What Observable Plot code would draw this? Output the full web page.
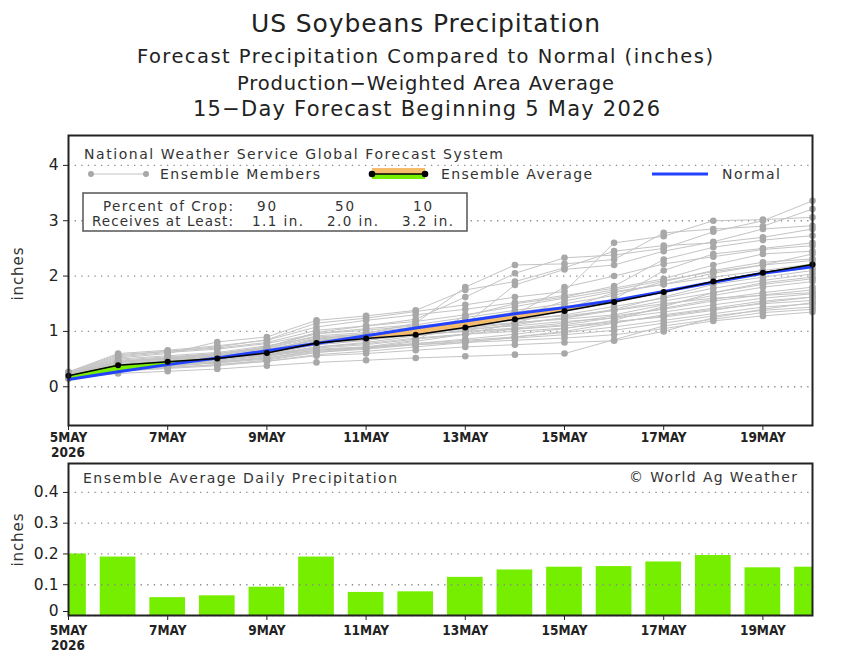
<!DOCTYPE html>
<html>
<head>
<meta charset="utf-8">
<script src="https://cdn.jsdelivr.net/npm/d3@7"></script>
<script src="https://cdn.jsdelivr.net/npm/@observablehq/plot@0.6"></script>
<style>
  body { margin: 0; background: #fff; }
  #chart { position: relative; width: 848px; height: 656px; overflow: hidden; font-family: "DejaVu Sans", sans-serif; }
  #chart > svg { position: absolute; left: 0; }
</style>
</head>
<body>
<div id="chart"></div>
<script>
// ---- data -------------------------------------------------------------
const days = ["5MAY","6MAY","7MAY","8MAY","9MAY","10MAY","11MAY","12MAY",
              "13MAY","14MAY","15MAY","16MAY","17MAY","18MAY","19MAY","20MAY"];
const tickDays = [0, 2, 4, 6, 8, 10, 12, 14];
const tickLabels = ["5MAY","7MAY","9MAY","11MAY","13MAY","15MAY","17MAY","19MAY"];
const yearLabel = "2026";
const yTicksTop = [0, 1, 2, 3, 4];
const yTickLabelsTop = ["0", "1", "2", "3", "4"];
const yTicksBottom = [0, 0.1, 0.2, 0.3, 0.4];
const yTickLabelsBottom = ["0", "0.1", "0.2", "0.3", "0.4"];

// cumulative precipitation (inches)
const ensembleAverage = [0.20,0.39,0.45,0.51,0.61,0.79,0.87,0.94,1.07,1.22,1.37,1.53,1.71,1.90,2.06,2.21];
const normal          = [0.13,0.27,0.40,0.52,0.65,0.78,0.92,1.06,1.19,1.32,1.43,1.56,1.72,1.89,2.05,2.17];

// daily ensemble-average precipitation (inches)
const dailyAverage = [0.20,0.19,0.058,0.064,0.092,0.19,0.075,0.077,0.124,0.148,0.157,0.159,0.174,0.195,0.155,0.157];

// cumulative precipitation of each ensemble member (inches)
const members = [
  [0.22,0.45,0.52,0.60,0.72,0.98,1.10,1.22,1.62,2.05,2.33,2.38,2.50,2.80,3.00,3.36],
  [0.20,0.40,0.47,0.55,0.66,0.86,0.96,1.15,1.80,2.20,2.22,2.30,2.78,2.85,2.90,3.21],
  [0.25,0.56,0.64,0.72,0.85,1.15,1.24,1.36,1.48,1.62,1.72,2.60,2.72,3.00,3.02,3.06],
  [0.18,0.35,0.41,0.48,0.58,0.76,0.84,0.94,1.12,1.84,2.12,2.20,2.45,2.62,2.85,2.91],
  [0.23,0.52,0.60,0.81,0.90,1.20,1.28,1.38,1.75,1.90,2.15,2.45,2.55,2.60,2.70,2.85],
  [0.17,0.30,0.36,0.44,0.52,0.66,0.72,0.84,1.28,1.50,1.62,1.82,2.30,2.52,2.65,2.73],
  [0.21,0.44,0.50,0.56,0.70,0.92,0.98,1.08,1.20,1.35,1.45,1.58,2.10,2.40,2.50,2.60],
  [0.19,0.38,0.45,0.52,0.64,0.82,0.92,1.04,1.18,1.30,1.80,2.00,2.22,2.35,2.48,2.55],
  [0.27,0.60,0.66,0.74,0.84,1.08,1.20,1.30,1.40,1.52,1.65,1.78,1.95,2.20,2.40,2.45],
  [0.15,0.28,0.34,0.40,0.48,0.62,0.70,0.82,0.95,1.15,1.40,1.70,1.85,2.05,2.20,2.40],
  [0.22,0.46,0.52,0.58,0.72,0.96,1.05,1.12,1.25,1.38,1.50,1.65,1.90,2.10,2.25,2.31],
  [0.20,0.40,0.46,0.53,0.62,0.80,0.88,0.98,1.08,1.25,1.55,1.72,1.85,1.98,2.10,2.22],
  [0.24,0.50,0.56,0.62,0.74,0.90,0.95,1.00,1.10,1.22,1.36,1.52,1.70,1.88,2.05,2.15],
  [0.18,0.34,0.40,0.46,0.56,0.72,0.80,0.92,1.02,1.12,1.25,1.40,1.62,1.85,1.98,2.10],
  [0.21,0.42,0.48,0.55,0.66,0.86,0.92,1.00,1.12,1.20,1.30,1.45,1.60,1.78,1.92,2.04],
  [0.19,0.36,0.42,0.50,0.60,0.76,0.84,0.96,1.05,1.15,1.24,1.38,1.55,1.70,1.85,1.95],
  [0.23,0.48,0.54,0.60,0.70,0.88,0.94,1.02,1.08,1.16,1.22,1.30,1.48,1.65,1.80,1.90],
  [0.17,0.32,0.38,0.44,0.54,0.70,0.76,0.86,0.95,1.04,1.12,1.25,1.42,1.58,1.70,1.80],
  [0.20,0.40,0.46,0.52,0.62,0.78,0.85,0.94,1.00,1.06,1.15,1.28,1.40,1.55,1.66,1.75],
  [0.22,0.44,0.50,0.56,0.66,0.84,0.90,0.98,1.04,1.10,1.18,1.24,1.35,1.48,1.60,1.68],
  [0.16,0.28,0.33,0.38,0.46,0.58,0.64,0.72,0.80,0.90,1.00,1.15,1.30,1.42,1.55,1.62],
  [0.19,0.36,0.42,0.48,0.58,0.72,0.78,0.88,0.95,1.00,1.06,1.16,1.28,1.40,1.50,1.56],
  [0.21,0.40,0.45,0.50,0.58,0.68,0.72,0.78,0.84,0.90,0.98,1.08,1.20,1.32,1.44,1.50],
  [0.18,0.33,0.38,0.43,0.50,0.62,0.68,0.76,0.82,0.88,0.94,1.02,1.15,1.28,1.38,1.44],
  [0.15,0.24,0.28,0.32,0.38,0.44,0.48,0.52,0.55,0.58,0.60,0.85,1.10,1.22,1.34,1.40],
  [0.20,0.38,0.44,0.50,0.56,0.66,0.70,0.76,0.80,0.84,0.88,0.94,1.05,1.19,1.28,1.35],
  [0.17,0.30,0.35,0.40,0.46,0.56,0.60,0.66,0.72,0.76,0.80,0.83,1.00,1.25,1.40,1.52],
  [0.24,0.54,0.62,0.68,0.78,0.96,1.02,1.10,1.15,1.22,1.28,1.38,1.50,1.60,1.65,1.70],
  [0.19,0.36,0.40,0.45,0.52,0.64,0.70,0.78,0.86,0.95,1.05,1.20,1.45,1.70,1.88,1.98],
  [0.22,0.46,0.52,0.58,0.68,0.84,0.90,0.96,1.00,1.04,1.10,1.18,1.26,1.38,1.52,1.62],
  [0.26,0.58,0.64,0.70,0.80,1.02,1.10,1.18,1.30,1.45,1.60,1.75,1.92,2.08,2.20,2.28]
];

// crop-percentile table
const cropPercents = [90, 50, 10];
const receivesAtLeast = [1.1, 2.0, 3.2];

// ---- styling ----------------------------------------------------------
const ORANGE = "#f5bd6b";
const GREEN = "#76ee00";
const BLUE = "#2242ff";
const MEMBER_LINE = "#c4c4c4";
const MEMBER_DOT = "#a8a8a8";
const TEXT = "#333";
const NARROW = "'Liberation Sans Narrow','DejaVu Sans Condensed',sans-serif";
const tickFont = {fontFamily: NARROW, fontWeight: "bold", fontSize: 13.5};
const plotStyle = {fontFamily: "'DejaVu Sans',sans-serif", fontSize: "15px", color: "#222", background: "transparent", overflow: "visible"};
const fmtX = d => tickLabels[tickDays.indexOf(d)];
const fmtYTop = d => yTickLabelsTop[yTicksTop.indexOf(d)];
const fmtYBottom = d => yTickLabelsBottom[yTicksBottom.indexOf(d)];
const grid = {stroke: "#8a8a8a", strokeOpacity: 1, strokeWidth: 1.3, strokeDasharray: "1.3,5.3"};

// ---- derived rows -----------------------------------------------------
const memberRows = members.flatMap((vals, m) => vals.map((v, day) => ({member: m, day, v})));
const avgRows = ensembleAverage.map((v, day) => ({day, v}));
const normalRows = normal.map((v, day) => ({day, v}));
const dailyRows = dailyAverage.map((v, day) => ({day, label: days[day], v}));

// band between average and normal, split where the two curves cross
const fillRows = [];
for (let i = 0; i < ensembleAverage.length; i++) {
  const a = ensembleAverage[i], n = normal[i];
  fillRows.push({x: i, a, n});
  if (i < ensembleAverage.length - 1) {
    const d0 = a - n, d1 = ensembleAverage[i + 1] - normal[i + 1];
    if (d0 * d1 < 0) {
      const t = d0 / (d0 - d1);
      const y = a + t * (ensembleAverage[i + 1] - a);
      fillRows.push({x: i + t, a: y, n: y});
    }
  }
}

// ---- cumulative panel -------------------------------------------------
const topPlot = Plot.plot({
  width: 848, height: 330,
  marginLeft: 68, marginRight: 36, marginTop: 10, marginBottom: 30,
  x: {domain: [0, 15]},
  y: {domain: [-0.7, 4.54]},
  style: plotStyle,
  marks: [
    Plot.gridY(yTicksTop, grid),
    Plot.line(memberRows, {x: "day", y: "v", z: "member", stroke: MEMBER_LINE, strokeWidth: 1}),
    Plot.dot(memberRows, {x: "day", y: "v", r: 3.3, fill: MEMBER_DOT}),
    Plot.areaY(fillRows, {x: "x", y1: "a", y2: d => Math.max(d.a, d.n), fill: ORANGE}),
    Plot.areaY(fillRows, {x: "x", y1: d => Math.min(d.a, d.n), y2: "a", fill: GREEN}),
    Plot.line(normalRows, {x: "day", y: "v", stroke: BLUE, strokeWidth: 3}),
    Plot.line(avgRows, {x: "day", y: "v", stroke: "#000", strokeWidth: 1.5}),
    Plot.dot(avgRows, {x: "day", y: "v", r: 3, fill: "#000"}),
    Plot.axisX({ticks: tickDays, tickFormat: fmtX, tickSize: 5, tickPadding: 2, label: null, ...tickFont}),
    Plot.axisY({ticks: yTicksTop, tickFormat: fmtYTop, tickSize: 5, tickPadding: 5, label: null, fontSize: 15.5}),
    Plot.frame({stroke: "#222", strokeWidth: 2})
  ]
});
topPlot.style.top = "125px";

// ---- daily panel ------------------------------------------------------
const bottomPlot = Plot.plot({
  width: 848, height: 203,
  marginLeft: 68, marginRight: 36, marginTop: 10, marginBottom: 41,
  x: {domain: [0, 15]},
  y: {domain: [0, 0.494]},
  style: plotStyle,
  marks: [
    Plot.rectY(dailyRows, {x1: d => d.day - 0.36, x2: d => d.day + 0.36, y: "v", fill: GREEN, clip: true}),
    Plot.gridY(yTicksBottom, grid),
    Plot.axisX({ticks: tickDays, tickFormat: fmtX, tickSize: 5, tickPadding: 5, label: null, ...tickFont}),
    // the zero label is nudged up so it clears the first date label below it
    Plot.axisY({ticks: yTicksBottom.slice(1), tickFormat: fmtYBottom, tickSize: 5, tickPadding: 5, label: null, fontSize: 15.5}),
    Plot.axisY({ticks: yTicksBottom.slice(0, 1), tickFormat: fmtYBottom, tickSize: 5, tickPadding: 5, label: null, fontSize: 15.5, textStroke: "none", dy: -4}),
    Plot.frame({stroke: "#222", strokeWidth: 2})
  ]
});
bottomPlot.style.top = "453px";

const chart = document.getElementById("chart");
chart.append(topPlot, bottomPlot);

// ---- titles, legend and annotations ----------------------------------
const ov = d3.select(chart).append("svg")
  .attr("width", 848).attr("height", 656)
  .style("top", "0px").style("pointer-events", "none")
  .attr("font-family", "'DejaVu Sans',sans-serif");

function label(s, x, y, len, size, opt = {}) {
  const t = ov.append("text")
    .attr("x", x).attr("y", y)
    .attr("font-size", size)
    .attr("fill", opt.fill || TEXT)
    .attr("dominant-baseline", opt.baseline || "central")
    .text(s);
  if (opt.family) t.attr("font-family", opt.family);
  if (opt.weight) t.attr("font-weight", opt.weight);
  if (opt.anchor) t.attr("text-anchor", opt.anchor);
  if (len) t.attr("textLength", len).attr("lengthAdjust", "spacing");
  if (opt.rotate) t.attr("transform", `rotate(-90,${x},${y})`).attr("text-anchor", "middle");
  return t;
}

// titles
label("US Soybeans Precipitation", 251, 32, 349, 25, {baseline: "alphabetic", fill: "#222"});
label("Forecast Precipitation Compared to Normal (inches)", 137, 63, 576, 19.5, {baseline: "alphabetic", fill: "#222"});
label("Production\u2212Weighted Area Average", 237, 90, 377, 19.5, {baseline: "alphabetic", fill: "#222"});
label("15\u2212Day Forecast Beginning 5 May 2026", 193, 116, 467, 21, {baseline: "alphabetic", fill: "#222"});

// year under the first date tick of each panel
label(yearLabel, 68, 452, null, 13.5, {family: NARROW, weight: "bold", anchor: "middle", fill: "#222"});
label(yearLabel, 68, 645, null, 13.5, {family: NARROW, weight: "bold", anchor: "middle", fill: "#222"});

// legend
label("National Weather Service Global Forecast System", 84, 154, 419, 14);

ov.append("line").attr("x1", 91).attr("x2", 146).attr("y1", 174).attr("y2", 174)
  .attr("stroke", MEMBER_LINE).attr("stroke-width", 1.2);
ov.selectAll(null).data([91, 146]).join("circle")
  .attr("cx", d => d).attr("cy", 174).attr("r", 3).attr("fill", MEMBER_DOT);
label("Ensemble Members", 160, 174, 160, 14);

ov.append("rect").attr("x", 372).attr("y", 168).attr("width", 53).attr("height", 6).attr("fill", ORANGE);
ov.append("rect").attr("x", 372).attr("y", 174).attr("width", 53).attr("height", 5).attr("fill", GREEN);
ov.append("line").attr("x1", 372).attr("x2", 425).attr("y1", 174).attr("y2", 174)
  .attr("stroke", "#000").attr("stroke-width", 1.5);
ov.selectAll(null).data([372, 425]).join("circle")
  .attr("cx", d => d).attr("cy", 174).attr("r", 3.3).attr("fill", "#000");
label("Ensemble Average", 441, 174, 151, 14);

ov.append("line").attr("x1", 652).attr("x2", 708).attr("y1", 174).attr("y2", 174)
  .attr("stroke", BLUE).attr("stroke-width", 3);
label("Normal", 722, 174, 58, 14);

// percentile box
ov.append("rect").attr("x", 83).attr("y", 193).attr("width", 384).attr("height", 38)
  .attr("fill", "#fff").attr("stroke", "#555").attr("stroke-width", 1.5);
label("Percent of Crop:", 103, 206, 130, 13.5);
label("Receives at Least:", 92, 221, 141, 13.5);
const pctX = [257, 335, 413];
const amtX = [252, 327, 402];
cropPercents.forEach((p, i) => label(String(p), pctX[i], 206, String(p).length * 9.5, 13.5));
receivesAtLeast.forEach((v, i) => label(`${v.toFixed(1)} in.`, amtX[i], 221, 51, 13.5));

// daily panel annotations
label("Ensemble Average Daily Precipitation", 83, 478, 314, 14);
label("\u00a9 World Ag Weather", 629, 477, 168, 14);

// axis titles
label("inches", 17.5, 274, 53, 15, {rotate: true});
label("inches", 17.5, 540, 53, 15, {rotate: true});
</script>
</body>
</html>
